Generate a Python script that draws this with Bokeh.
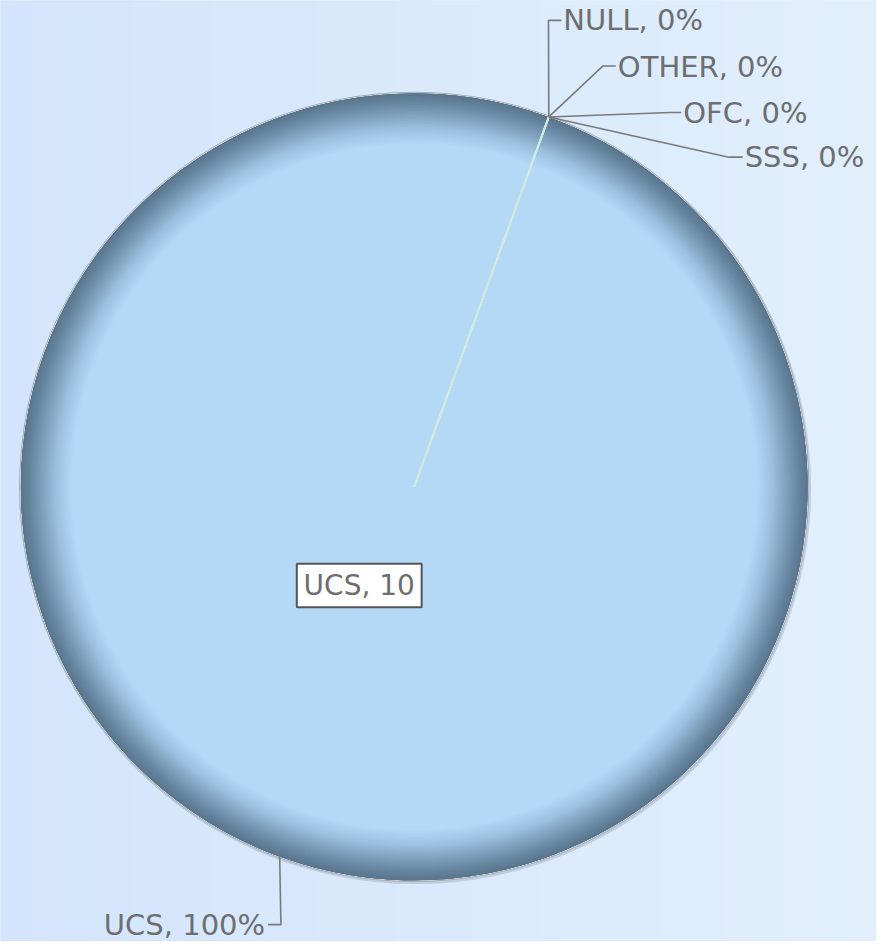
import numpy as np
from bokeh.plotting import figure
from bokeh.models import Range1d, ColumnDataSource
from bokeh.embed import file_html
from bokeh.resources import INLINE
from bokeh.core.properties import value

# ---------------- data ----------------
categories = ["NULL", "OTHER", "OFC", "SSS", "UCS"]
counts = [0, 0, 0, 0, 10]
value_label_category = "UCS"

# ---------------- layout / style ----------------
FONT = "DejaVu Sans"
FS = "29px"
FS_BOX = "28px"
TXT = "#6e6e6e"
LEAD = "#7a7a7a"
START_DEG = 20.0            # first slice starts 20 deg clockwise from top
CX, CY, R = 417.5, -490.5, 397.0
# label layout: (elbow x, elbow y, line end x, text x, text y, align)  in page px (y down)
label_layout = {
    "NULL":  (553, 20, 566, 568, 20, "left"),
    "OTHER": (608, 66, 621, 623, 67, "left"),
    "OFC":   (676, 113, 687, 689, 113, "left"),
    "SSS":   (735, 158, 749, 751, 158, "left"),
    "UCS":   (283, 932, 270, 267, 932, "right"),
}
value_box = (362, 590, 126, 44)

p = figure(width=876, height=941, x_range=Range1d(0, 884), y_range=Range1d(-949, 0),
           output_backend="svg", toolbar_location=None, min_border=0,
           x_axis_type=None, y_axis_type=None)
p.grid.visible = False
p.outline_line_color = None
p.background_fill_color = "#d8e8fc"
p.border_fill_color = "#d8e8fc"

# background horizontal gradient
n_bg = 44
edges = np.linspace(-10, 894, n_bg + 1)
c0 = np.array([211, 229, 252]); c1 = np.array([225, 239, 253])
bg_cols = []
for i in range(n_bg):
    t = i / (n_bg - 1)
    c = (c0 + (c1 - c0) * t).round().astype(int)
    bg_cols.append("#%02x%02x%02x" % tuple(c))
p.quad(left=edges[:-1], right=edges[1:] + 0.6, bottom=-960, top=10, fill_color=bg_cols, line_color=None)

# ---------------- pie geometry from data ----------------
total = float(sum(counts))
frac = np.array(counts, dtype=float) / total
cw_end = START_DEG + 360.0 * np.cumsum(frac)
cw_start = cw_end - 360.0 * frac
sweep = np.radians(cw_end - cw_start)
sweep = np.minimum(sweep, 2 * np.pi - 0.002)
b_start = np.pi / 2 - np.radians(cw_end)
b_end = b_start + sweep
mid = np.radians((cw_start + cw_end) / 2)

src = ColumnDataSource(dict(cat=categories, start=b_start, end=b_end,
                            x=[CX] * len(categories), y=[CY] * len(categories)))

# outer shadow / border
p.circle(x=CX + 1, y=CY - 1.5, radius=R + 2.5, fill_color="#8a98a6", fill_alpha=0.35, line_color=None)
p.circle(x=CX, y=CY, radius=R + 1.2, fill_color="#e4e8ec", line_color="#a4acb4", line_width=1)

# radial gradient by layered wedges (dark edge -> light inside)
stops_r = [397, 389, 377, 362, 346]
stops_c = [(90, 119, 143), (102, 132, 158), (126, 158, 186), (156, 193, 224), (179, 217, 247)]
n_layers = 36
radii = np.linspace(397, 346, n_layers)
for r in radii:
    c = [np.interp(-r, [-s for s in stops_r], [sc[k] for sc in stops_c]) for k in range(3)]
    col = "#%02x%02x%02x" % tuple(int(round(v)) for v in c)
    p.wedge(x="x", y="y", radius=float(r), start_angle="start", end_angle="end",
            direction="anticlock", source=src, fill_color=col, line_color=None)

# slice boundary lines
bx = [CX + R * np.sin(np.radians(a)) for a in cw_start]
by = [CY + R * np.cos(np.radians(a)) for a in cw_start]
p.segment(x0=[CX] * len(bx), y0=[CY] * len(by), x1=bx, y1=by,
          line_color="#cfeae0", line_width=1.8, line_alpha=0.9)

# ---------------- outside labels with leader lines ----------------
pct = frac * 100
xs, ys, tx, ty, tt, ta = [], [], [], [], [], []
for i, cat in enumerate(categories):
    ex = CX + R * np.sin(mid[i]); ey = CY + R * np.cos(mid[i])
    elx, ely, lx, txx, tyy, al = label_layout[cat]
    xs.append([ex, elx, lx]); ys.append([ey, -ely, -ely])
    tx.append(txx); ty.append(-tyy); tt.append(f"{cat}, {int(round(pct[i]))}%"); ta.append(al)
p.multi_line(xs=xs, ys=ys, line_color=LEAD, line_width=1.6)
lab = ColumnDataSource(dict(x=tx, y=ty, t=tt, a=ta))
p.text(x="x", y="y", text="t", text_align="a", text_baseline="middle", source=lab,
       text_font=value(FONT), text_font_size=FS, text_color=TXT)

# value label box
vi = categories.index(value_label_category)
bxc, byc, bw, bh = value_box
p.rect(x=bxc, y=-byc, width=bw, height=bh, fill_color="white", line_color="#555555", line_width=2)
p.text(x=[bxc], y=[-byc], text=[f"{value_label_category}, {counts[vi]}"], text_align="center",
       text_baseline="middle", text_font=value(FONT), text_font_size=FS_BOX, text_color=TXT)

open("out.html", "w").write(file_html(p, INLINE))
